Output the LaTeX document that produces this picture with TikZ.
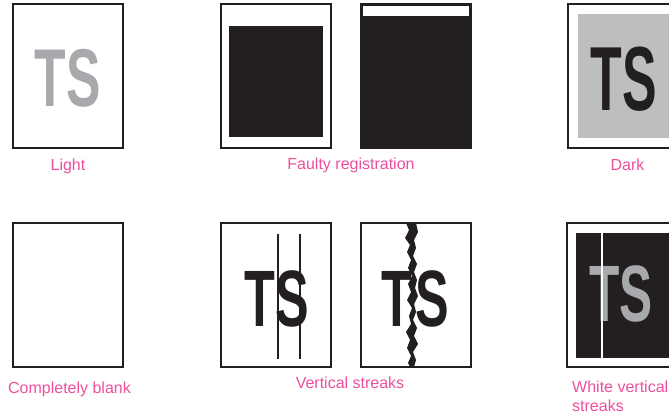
\documentclass[tikz,border=0pt]{standalone}
\usepackage{fontspec}
\setmainfont{Liberation Sans}
\usetikzlibrary{calc}

\definecolor{ink}{HTML}{231F20}
\definecolor{tonerlight}{HTML}{A7A9AC}
\definecolor{tonergray}{HTML}{BCBEC0}
\definecolor{pinklabel}{HTML}{EE4F9C}

\tikzset{
  page/.style={draw=ink, line width=1.6pt},
  lbl/.style={text=pinklabel, font=\fontsize{16}{19}\selectfont, inner sep=0pt, anchor=base},
  tsfont/.style={font=\fontsize{#1}{#1}\selectfont\bfseries, inner sep=0pt},
  streak/.style={draw=ink, line width=1.1pt}
}

\begin{document}
\begin{tikzpicture}[x=1pt, y=-1pt]
    \useasboundingbox (0,0) rectangle (669,418);
    \clip (0,0) rectangle (669,418);

    % Light
    \draw[page] (13,4) rectangle (123,148);
    \node[tsfont=82, xscale=0.63, text=tonerlight] (tslight) at (68,78) {TS};
    \node[lbl] (lightlbl) at (68,170) {Light};

    % Faulty registration
    \draw[page] (221,4) rectangle (331,148);
    \fill[ink] (229,26) rectangle (323,137);
    \draw[page, fill=ink] (361,4) rectangle (471,148);
    \fill[white] (363,6) rectangle (469,16);
    \node[lbl] (faultylbl) at (351,169) {Faulty registration};

    % Dark
    \draw[page] (568,4) rectangle (678,148);
    \fill[tonergray] (578,14) rectangle (678,138);
    \node[tsfont=91, xscale=0.57, text=ink] (tsdark) at (623.5,79.5) {TS};
    \node[lbl] (darklbl) at (627.5,170) {Dark};

    % Completely blank
    \draw[page] (13,223) rectangle (123,367);
    \node[lbl] (blanklbl) at (69.5,393) {Completely blank};

    % Vertical streaks
    \draw[page] (221,223) rectangle (331,367);
    \node[tsfont=80, xscale=0.63, text=ink] (tsstreak) at (276.5,298.5) {TS};
    \foreach \x in {278, 300} \draw[streak] (\x,234) -- (\x,359);

    \draw[page] (361,223) rectangle (471,367);
    \node[tsfont=80, xscale=0.63, text=ink] (tsjagged) at (415.5,298.5) {T\kern.07em S};
    % jagged streak
    \fill[ink] (406,223) -- (409,230) -- (405,238) -- (410,245) -- (407,252)
        -- (411,260) -- (408,268) -- (412,276) -- (408,284) -- (411,292)
        -- (407,300) -- (412,308) -- (409,316) -- (411,324) -- (406,332)
        -- (410,340) -- (407,348) -- (411,356) -- (408,363) -- (410,367)
        -- (414,367) -- (416,360) -- (413,352) -- (418,344) -- (414,336)
        -- (417,328) -- (413,320) -- (416,312) -- (414,304) -- (418,296)
        -- (415,288) -- (417,280) -- (414,272) -- (417,264) -- (413,256)
        -- (416,248) -- (414,240) -- (418,232) -- (416,223) -- cycle;
    \node[lbl] (vstreaklbl) at (350,388) {Vertical streaks};

    % White vertical streaks
    \draw[page] (567,223) rectangle (677,367);
    \fill[ink] (576,233) rectangle (678,358);
    \node[tsfont=80, xscale=0.62, text=tonerlight] (tswhite) at (621,293.5) {TS};
    \draw[white, line width=1.1pt] (602,233) -- (602,358);
    \node[lbl, anchor=base west, align=left] (wstreaklbl) at (572,411) {White vertical\\streaks};
\end{tikzpicture}
\end{document}
